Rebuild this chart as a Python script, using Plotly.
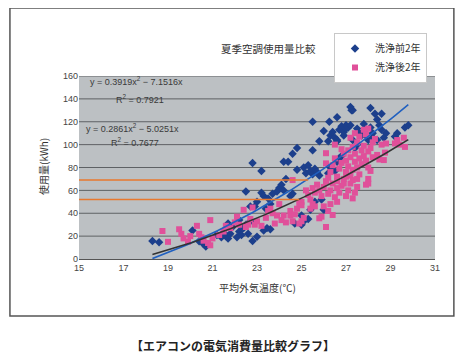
import numpy as np
import plotly.graph_objects as go

# ---- data ----
before_x = [18.3, 18.6, 20.1, 20.4, 20.6, 20.7, 21.2, 21.4, 21.5, 21.6, 21.7, 21.8, 22.1, 22.2, 22.3, 22.4, 22.5, 22.6,
            22.8, 23.0, 23.3, 23.45, 23.6, 22.7, 21.9, 21.7, 22.2,
            22.5, 22.7, 22.9, 23.0, 23.2, 23.3, 23.5, 23.6, 23.7, 23.4, 22.8, 23.2, 23.9, 24.0, 24.1, 24.2, 24.3, 24.5,
            24.6, 24.4, 24.2, 24.7, 25.0, 25.1, 25.0, 25.3, 25.4, 24.8, 24.6, 24.8, 25.1, 25.2, 25.3, 25.4, 25.5, 25.6,
            25.7, 25.8, 25.5, 25.6, 25.9, 25.8, 25.5, 26.0, 26.2, 26.3, 26.5, 26.6, 26.7, 26.8, 26.2, 26.3, 26.4, 26.5,
            26.6, 26.25, 26.6, 26.7, 26.8, 26.9, 27.0, 27.0, 26.9, 27.1, 27.2, 27.25, 27.3, 27.4, 27.5, 27.5, 27.6, 27.7,
            27.8, 27.9, 28.0, 28.1, 28.1, 28.2, 28.3, 28.4, 28.5, 28.6, 28.6, 28.7, 28.8, 28.4, 28.2, 29.2, 29.3, 29.65,
            29.8, 27.2, 26.6, 26.0, 27.3, 27.8]
before_y = [15.7, 14.6, 25, 15.5, 13, 11, 21, 19, 23, 20, 18, 22, 19, 24, 21, 27, 30, 22,
            15.7, 19.5, 25, 27, 26, 33, 28, 31, 34,
            59, 46, 46, 50, 58, 55, 53, 48, 57, 44, 84, 77, 59, 62, 65, 60, 70, 55,
            57, 85, 85, 31, 30, 33, 38, 35, 43, 78, 92, 97, 80, 75, 82, 77, 74, 79,
            76, 73, 95, 50, 52, 103, 120, 43, 75, 80, 77, 85, 88, 90, 103, 108, 111, 106,
            103, 120, 124, 113, 116, 111, 114, 117, 108, 115, 117, 130, 130, 97, 100, 114, 110, 108,
            112, 108, 104, 132, 115, 110, 127, 122, 117, 127, 113, 106, 110, 104, 106, 107, 110, 115,
            117, 133, 104, 112, 104, 118]

after_x = [18.75, 19.0, 19.5, 19.6, 19.7, 19.9, 20.0, 20.3, 20.4, 20.5, 20.6, 20.8, 20.9, 20.9, 21.0, 21.3, 21.5,
           21.6, 21.8, 22.0, 22.1, 22.2, 22.4, 22.5, 22.6, 22.7, 22.8, 22.9, 23.0, 23.2, 23.4, 23.6, 23.7, 23.8,
           23.9, 24.0, 24.1, 24.2, 24.3, 24.5, 24.5, 24.6, 24.7, 24.9, 25.0, 25.1, 24.9, 24.8, 25.0, 25.4, 25.5,
           25.6, 25.8, 25.9, 26.0, 26.1, 26.2, 26.3, 26.4, 26.6, 25.5, 25.4, 25.3, 25.6, 25.7, 25.8, 25.9, 26.0,
           26.1, 26.2, 26.3, 26.4, 26.5, 26.6, 26.7, 26.8, 26.9, 27.0, 27.1, 27.2, 27.3, 27.4, 27.5, 27.0, 27.9,
           28.0, 28.0, 26.1, 26.1, 26.3, 26.4, 26.5, 26.5, 26.6, 26.7, 26.8, 26.9, 27.0, 27.0, 27.1, 27.1, 27.2,
           27.2, 27.3, 27.3, 27.4, 27.4, 27.5, 27.5, 27.6, 27.6, 27.7, 27.7, 27.8, 27.8, 27.9, 28.0, 28.0, 28.1,
           28.2, 28.2, 27.2, 27.4, 27.6, 27.8, 28.0, 27.9, 28.3, 28.4, 28.5, 28.6, 28.7, 28.75, 28.8, 29.2, 29.3,
           29.6, 29.65, 29.4, 27.3, 26.9, 26.6, 25.2, 24.6, 25.0, 23.5, 26.8, 27.5, 28.1, 26.2]
after_y = [24.5, 15, 26, 22, 18, 15, 20, 29, 22, 19, 16, 14, 12, 34, 18, 21, 24,
           29, 27, 32, 37, 30, 43, 28, 30, 35, 45, 30, 33, 29, 36, 44, 40, 31,
           38, 48, 34, 38, 32, 38, 42, 33, 39, 31, 33, 36, 49, 44, 50, 44, 48,
           46, 35.6, 37, 46, 28, 42, 48, 38.5, 50, 62, 52, 56, 58, 65, 60, 55, 63,
           68, 57, 60, 66, 54, 62, 58, 64, 70, 55, 60, 66, 53, 58, 63, 72, 65,
           70, 66, 92.5, 83.6, 76, 82, 88, 100, 72, 79, 84, 92, 76, 86, 95, 81, 73,
           89, 98, 78, 85, 92, 80, 102, 88, 74, 95, 83, 90, 99, 86, 94, 80, 97,
           89, 102, 106, 110, 107, 113, 114, 109, 105, 91, 87, 100, 86.5, 93, 101, 101, 104,
           106, 98, 100, 69, 66, 68, 60, 69, 47, 42, 96, 70, 77, 71]

series_names = ["洗浄前2年", "洗浄後2年"]
fit_coef = [(0.3919, -7.1516), (0.2861, -5.0251)]
fit_r2 = ["0.7921", "0.7677"]
fit_x_range = [(18.3, 29.8), (18.3, 29.8)]
ref_levels = [69, 52]
ref_end_x = [25.3, 24.9]
x_ticks = [15, 17, 19, 21, 23, 25, 27, 29, 31]
y_ticks = [0, 20, 40, 60, 80, 100, 120, 140, 160]

font = "Noto Sans CJK JP"
navy = "#1c3f8c"
pink = "#e0509a"

fig = go.Figure()
fig.add_trace(go.Scatter(x=before_x, y=before_y, mode="markers", name=series_names[0],
                         marker=dict(symbol="diamond", size=6.5, color=navy)))
fig.add_trace(go.Scatter(x=after_x, y=after_y, mode="markers", name=series_names[1],
                         marker=dict(symbol="square", size=6, color=pink)))

line_cols = ["#2060c0", "#333333"]
for (a, b), (x0, x1), col in zip(fit_coef, fit_x_range, line_cols):
    xs = np.linspace(x0, x1, 60)
    fig.add_trace(go.Scatter(x=xs, y=a * xs ** 2 + b * xs, mode="lines", showlegend=False,
                             line=dict(color=col, width=1.6), hoverinfo="skip"))

shapes = []
for lvl, xe in zip(ref_levels, ref_end_x):
    shapes.append(dict(type="line", xref="x", yref="y", x0=14.9, x1=xe, y0=lvl, y1=lvl,
                       line=dict(color="#e8782e", width=1.5)))
# outer frame
shapes.append(dict(type="rect", xref="paper", yref="paper", x0=-0.194, x1=1.053, y0=-0.311, y1=1.372,
                   line=dict(color="#555555", width=1.5), layer="below"))
# gridlines drawn as dark lines
for t in y_ticks[1:]:
    shapes.append(dict(type="line", xref="paper", yref="y", x0=0, x1=1, y0=t, y1=t,
                       line=dict(color="#5e6164", width=1), layer="below"))

ann = []
txtc = "#3a3a3a"
ann.append(dict(xref="paper", yref="paper", x=(88 - 79) / 356, y=(259 - 81) / 183, xanchor="left", yanchor="middle",
                text=f"y = {fit_coef[0][0]}x<sup>2</sup> − {abs(fit_coef[0][1])}x", showarrow=False,
                font=dict(size=9, color=txtc, family="Liberation Sans")))
ann.append(dict(xref="paper", yref="paper", x=(114 - 79) / 356, y=(259 - 99) / 183, xanchor="left", yanchor="middle",
                text=f"R<sup>2</sup> = {fit_r2[0]}", showarrow=False,
                font=dict(size=9, color=txtc, family="Liberation Sans")))
ann.append(dict(xref="paper", yref="paper", x=(84 - 79) / 356, y=(259 - 128) / 183, xanchor="left", yanchor="middle",
                text=f"y = {fit_coef[1][0]}x<sup>2</sup> − {abs(fit_coef[1][1])}x", showarrow=False,
                font=dict(size=9, color=txtc, family="Liberation Sans")))
ann.append(dict(xref="paper", yref="paper", x=(109 - 79) / 356, y=(259 - 142) / 183, xanchor="left", yanchor="middle",
                text=f"R<sup>2</sup> = {fit_r2[1]}", showarrow=False,
                font=dict(size=9, color=txtc, family="Liberation Sans")))
ann.append(dict(xref="paper", yref="paper", x=(268 - 79) / 356, y=(259 - 48) / 183, xanchor="center", yanchor="middle",
                text="夏季空調使用量比較", showarrow=False, font=dict(size=10.5, color="#333", family=font)))
ann.append(dict(xref="paper", yref="paper", x=(43 - 79) / 356, y=(259 - 167) / 183, xanchor="center", yanchor="middle",
                text="使用量(kWh)", textangle=-90, showarrow=False, font=dict(size=10, color="#333", family=font)))
ann.append(dict(xref="paper", yref="paper", x=(257 - 79) / 356, y=(259 - 287) / 183, xanchor="center", yanchor="middle",
                text="平均外気温度(℃)", showarrow=False, font=dict(size=10, color="#333", family=font)))
ann.append(dict(xref="paper", yref="paper", x=(233 - 79) / 356, y=(259 - 345) / 183, xanchor="center", yanchor="middle",
                text="<b>【エアコンの電気消費量比較グラフ】</b>", showarrow=False,
                font=dict(size=12, color="#222", family=font)))

# the page body adds an 8px margin, so the figure is drawn 8px smaller and shifted
fig.update_layout(
    width=456, height=352,
    margin=dict(l=71, r=29, t=68, b=101, autoexpand=False),
    paper_bgcolor="white", plot_bgcolor="#bcc0c3",
    font=dict(family=font, color="#444"),
    shapes=shapes, annotations=ann,
    legend=dict(x=(334 - 79) / 356, y=(259 - 33) / 183, xanchor="left", yanchor="top",
                bgcolor="white", bordercolor="#c8c8c8", borderwidth=1,
                font=dict(size=10, color="#333", family=font), itemwidth=30,
                tracegroupgap=0),
    showlegend=True,
)
fig.update_xaxes(range=[15, 31], tickvals=x_ticks, showgrid=False, zeroline=False,
                 ticks="", tickfont=dict(size=9, color="#444", family="Liberation Sans"),
                 showline=True, linecolor="#555", linewidth=1, ticklen=3)
fig.update_yaxes(range=[0, 160], tickvals=y_ticks, showgrid=False, zeroline=False,
                 ticks="", tickfont=dict(size=9, color="#444", family="Liberation Sans"),
                 showline=False)

fig.write_html("out.html")
